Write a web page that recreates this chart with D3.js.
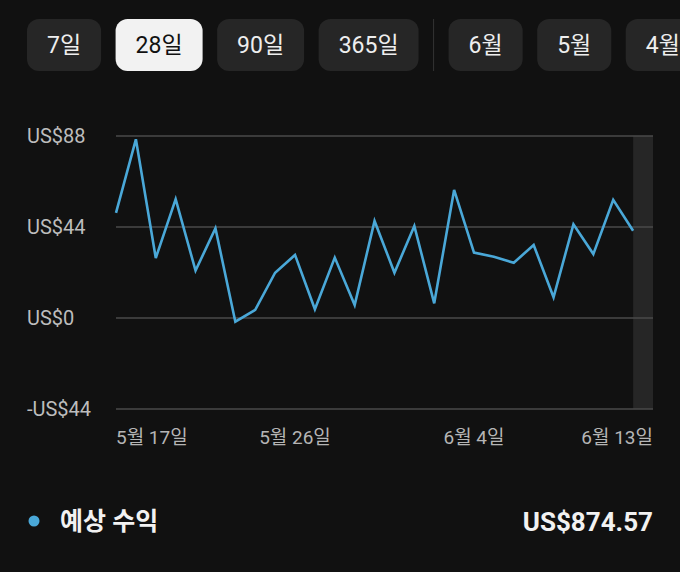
<!DOCTYPE html>
<html>
<head>
<meta charset="utf-8">
<script src="https://cdn.jsdelivr.net/npm/d3@7"></script>
<style>
  html, body { margin: 0; padding: 0; background: #111111; }
  svg { display: block; }
  text { font-family: Roboto, "Noto Sans CJK KR", sans-serif; }
</style>
</head>
<body>
<svg id="chart" width="680" height="572"></svg>
<script>
// ---- data ----
const rangeButtons = ["7일", "28일", "90일", "365일"];
const monthButtons = ["6월", "5월", "4월"];
const selectedButton = "28일";

const days = [
  "5월 17일","5월 18일","5월 19일","5월 20일","5월 21일","5월 22일","5월 23일",
  "5월 24일","5월 25일","5월 26일","5월 27일","5월 28일","5월 29일","5월 30일",
  "5월 31일","6월 1일","6월 2일","6월 3일","6월 4일","6월 5일","6월 6일",
  "6월 7일","6월 8일","6월 9일","6월 10일","6월 11일","6월 12일","6월 13일"
];
const earnings = [
  50.8, 86.4, 29.0, 57.5, 22.9, 43.4, -1.8,
  3.9, 21.9, 30.5, 4.2, 29.2, 6.3, 46.9,
  21.9, 44.5, 7.1, 61.9, 31.6, 29.6, 26.7,
  35.3, 10.0, 45.3, 30.9, 57.1, 42.2, null
];
const xTickLabels = ["5월 17일", "5월 26일", "6월 4일", "6월 13일"];
const yTicks = [-44, 0, 44, 88];
const seriesName = "예상 수익";
const seriesTotal = "US$874.57";
const highlightDay = "6월 13일";

// ---- drawing ----
const svg = d3.select("#chart");
const lineColor = "#4aa8d8";

// buttons
const btnG = svg.append("g");
let bx = 27;
const btnY = 19, btnH = 52, pad = 20, gap = 14.5;
function drawButton(label) {
  const g = btnG.append("g");
  const sel = label === selectedButton;
  const rect = g.append("rect").attr("rx", 12).attr("ry", 12)
    .attr("fill", sel ? "#f2f2f2" : "#262626");
  const t = g.append("text").text(label)
    .attr("font-size", 23).attr("fill", sel ? "#111111" : "#eeeeee")
    .attr("text-anchor", "middle").attr("dy", "0.35em");
  const w = t.node().getComputedTextLength() + pad * 2;
  rect.attr("x", bx).attr("y", btnY).attr("width", w).attr("height", btnH);
  t.attr("x", bx + w / 2).attr("y", btnY + btnH / 2);
  bx += w + gap;
}
rangeButtons.forEach(drawButton);
btnG.append("line").attr("x1", bx + 0.5).attr("x2", bx + 0.5)
  .attr("y1", btnY).attr("y2", btnY + btnH).attr("stroke", "#333333").attr("stroke-width", 1);
bx += 15.5;
monthButtons.forEach(drawButton);

// scales
const x = d3.scalePoint().domain(days).range([116, 653]);
const y = d3.scaleLinear().domain([-44, 88]).range([409, 136]);

// highlight band for last day
const step = x.step();
svg.append("rect")
  .attr("x", x(highlightDay) - step).attr("y", y(88))
  .attr("width", step).attr("height", y(-44) - y(88))
  .attr("fill", "#262626");

// gridlines
const fmt = v => (v < 0 ? "-" : "") + "US$" + Math.abs(v);
svg.append("g").selectAll("line").data(yTicks).join("line")
  .attr("x1", 116).attr("x2", 653)
  .attr("y1", d => y(d)).attr("y2", d => y(d))
  .attr("stroke", "#4a4a4a").attr("stroke-width", 1.5);

svg.append("g").selectAll("text").data(yTicks).join("text")
  .attr("x", 27).attr("y", d => y(d)).attr("dy", "0.35em")
  .attr("font-size", 20).attr("fill", "#bdbdbd")
  .text(fmt);

// x tick labels
svg.append("g").selectAll("text").data(xTickLabels).join("text")
  .attr("x", d => x(d))
  .attr("y", 437).attr("dy", "0.35em")
  .attr("font-size", 19).attr("fill", "#b5b5b5")
  .attr("text-anchor", (d, i) => i === 0 ? "start" : (i === xTickLabels.length - 1 ? "end" : "middle"))
  .text(d => d);

// line
const data = days.map((d, i) => ({ day: d, v: earnings[i] }));
const line = d3.line().defined(d => d.v !== null).x(d => x(d.day)).y(d => y(d.v));
svg.append("path").datum(data)
  .attr("d", line).attr("fill", "none")
  .attr("stroke", lineColor).attr("stroke-width", 2.6)
  .attr("stroke-linejoin", "miter").attr("stroke-linecap", "butt");

// legend
svg.append("circle").attr("cx", 34).attr("cy", 521).attr("r", 5.5).attr("fill", lineColor);
svg.append("text").attr("x", 60).attr("y", 521).attr("dy", "0.36em")
  .attr("font-size", 25).attr("font-weight", "bold").attr("fill", "#f2f2f2")
  .text(seriesName);
svg.append("text").attr("x", 653).attr("y", 522).attr("dy", "0.36em")
  .attr("text-anchor", "end")
  .attr("font-size", 26).attr("font-weight", "bold").attr("fill", "#f2f2f2")
  .text(seriesTotal);
</script>
</body>
</html>
